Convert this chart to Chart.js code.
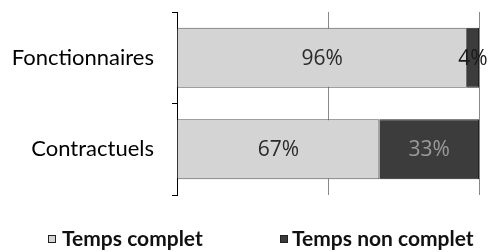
<!DOCTYPE html>
<html><head><meta charset="utf-8">
<script src="https://cdn.jsdelivr.net/npm/chart.js@4.4.1/dist/chart.umd.min.js"></script>
<style>html,body{margin:0;padding:0;background:#fff;}#wrap{width:490px;height:252px;position:relative;}</style>
</head><body><div id="wrap"><canvas id="c"></canvas></div>
<script>
const categories = ['Fonctionnaires', 'Contractuels'];
const seriesNames = ['Temps complet', 'Temps non complet'];
const tempsComplet = [96, 67];
const tempsNonComplet = [4, 33];
const xTicks = [0, 50, 100];

const barLabels = {
  id: 'barLabels',
  afterDatasetsDraw(chart) {
    const ctx = chart.ctx;
    chart.data.datasets.forEach((ds, di) => {
      const meta = chart.getDatasetMeta(di);
      meta.data.forEach((el, i) => {
        const p = el.getProps(['x', 'y', 'base'], true);
        ctx.save();
        ctx.font = '21px "Open Sans"';
        ctx.fillStyle = ds.labelColors[i];
        ctx.textAlign = 'center';
        ctx.textBaseline = 'middle';
        ctx.fillText(ds.data[i] + '%', (p.x + p.base) / 2, p.y + 1);
        ctx.restore();
      });
    });
  }
};

const bottomLegend = {
  id: 'bottomLegend',
  afterDraw(chart, args, opts) {
    const ctx = chart.ctx;
    chart.data.datasets.forEach((ds, i) => {
      const bx = opts.boxX[i], tx = opts.textX[i], cy = opts.y;
      ctx.save();
      ctx.fillStyle = ds.backgroundColor;
      ctx.fillRect(bx, cy - 4, 8, 8);
      ctx.strokeStyle = '#222';
      ctx.lineWidth = 1;
      ctx.strokeRect(bx + 0.5, cy - 3.5, 7, 7);
      ctx.font = opts.font;
      ctx.fillStyle = '#111';
      ctx.textAlign = 'left';
      ctx.textBaseline = 'middle';
      ctx.fillText(ds.label, tx, cy);
      ctx.restore();
    });
  }
};

new Chart(document.getElementById('c'), {
  type: 'bar',
  data: {
    labels: categories,
    datasets: [
      { label: seriesNames[0], data: tempsComplet, backgroundColor: '#d4d4d4', borderColor: '#555', borderWidth: 1, labelColors: ['#2a2a2a', '#2a2a2a'],
        barPercentage: 0.82, categoryPercentage: 0.8 },
      { label: seriesNames[1], data: tempsNonComplet, backgroundColor: '#3c3c3c', borderColor: '#222', borderWidth: 1, labelColors: ['#1a1a1a', '#9a9a9a'],
        barPercentage: 0.82, categoryPercentage: 0.8 }
    ]
  },
  options: {
    indexAxis: 'y',
    responsive: true,
    maintainAspectRatio: false,
    animation: false,
    layout: { padding: { top: 12, right: 11, bottom: 57, left: 0 } },
    scales: {
      x: {
        stacked: true, min: 0, max: 100,
        afterBuildTicks: s => { s.ticks = xTicks.map(v => ({ value: v })); },
        ticks: { display: false },
        grid: { color: '#888', lineWidth: 1, drawTicks: false },
        border: { display: false }
      },
      y: {
        stacked: true,
        afterFit: s => { s.width = 177; s.paddingTop = 0; s.paddingBottom = 0; },
        ticks: { color: '#000', font: { family: 'Lato', size: 22 }, padding: 18 },
        grid: { offset: true, drawOnChartArea: false, drawTicks: true, tickLength: 5, color: '#000' },
        border: { display: true, color: '#000', width: 1 }
      }
    },
    plugins: {
      legend: { display: false },
      tooltip: { enabled: false },
      bottomLegend: { boxX: [48, 280], textX: [62, 292], y: 239, font: 'bold 21px Lato' }
    }
  },
  plugins: [barLabels, bottomLegend]
});
</script></body></html>
